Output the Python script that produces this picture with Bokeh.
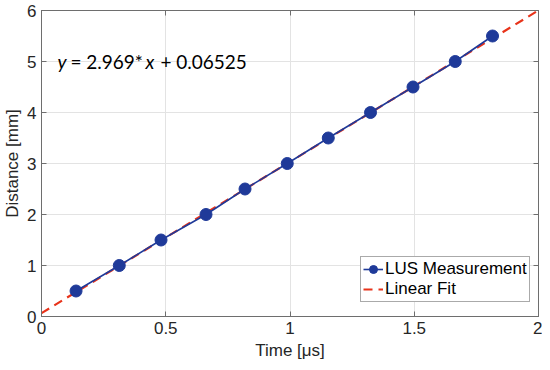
from bokeh.plotting import figure
from bokeh.models import LinearAxis, FixedTicker, Label, Range1d
from bokeh.embed import file_html
from bokeh.resources import INLINE

# Data
time_us = [0.139, 0.313, 0.481, 0.662, 0.819, 0.989, 1.154, 1.324, 1.495, 1.665, 1.815]
distance_mm = [0.5, 1.0, 1.5, 2.0, 2.5, 3.0, 3.5, 4.0, 4.5, 5.0, 5.5]
fit_slope = 2.969
fit_intercept = 0.06525
fit_x = [0.0, 2.0]
fit_y = [fit_slope * v + fit_intercept for v in fit_x]

x_ticks = [0, 0.5, 1, 1.5, 2]
x_tick_labels = ["0", "0.5", "1", "1.5", "2"]
y_ticks = [0, 1, 2, 3, 4, 5, 6]
y_tick_labels = ["0", "1", "2", "3", "4", "5", "6"]

BLUE = "#1f3a99"
RED = "#e8331a"
TXT = "#262626"
BOX = "#6e6e6e"

p = figure(frame_width=497, frame_height=306, output_backend="svg", toolbar_location=None,
           x_range=Range1d(0, 2), y_range=Range1d(0, 6),
           min_border_left=33, min_border_right=4, min_border_top=10, min_border_bottom=38)

p.line(fit_x, fit_y, line_color=RED, line_width=2.2, line_dash="9 6", legend_label="Linear Fit")
p.line(time_us, distance_mm, line_color=BLUE, line_width=1.6, legend_label="LUS Measurement")
p.scatter(time_us, distance_mm, size=12, fill_color=BLUE, line_color=BLUE, legend_label="LUS Measurement")

items = p.legend[0].items
p.legend[0].items = [items[1], items[0]]

p.xaxis.ticker = FixedTicker(ticks=x_ticks)
p.yaxis.ticker = FixedTicker(ticks=y_ticks)
p.xaxis.major_label_overrides = {t: l for t, l in zip(x_ticks, x_tick_labels)}
p.yaxis.major_label_overrides = {t: l for t, l in zip(y_ticks, y_tick_labels)}

for ax in [p.xaxis[0], p.yaxis[0]]:
    ax.major_tick_in = 5
    ax.major_tick_out = 0
    ax.minor_tick_line_color = None
    ax.axis_line_color = BOX
    ax.major_tick_line_color = BOX
    ax.major_label_text_font = "Liberation Sans"
    ax.major_label_text_font_size = "17px"
    ax.major_label_text_color = TXT
    ax.axis_label_text_font = "Liberation Sans"
    ax.axis_label_text_font_size = "17px"
    ax.axis_label_text_font_style = "normal"
    ax.axis_label_text_color = TXT

p.xaxis.axis_label = "Time [μs]"
p.yaxis.axis_label = "Distance [mm]"
p.xaxis.major_label_standoff = 5
p.yaxis.major_label_standoff = 5
p.xaxis.axis_label_standoff = 4
p.yaxis.axis_label_standoff = 2

# box axes (top/right) with ticks only
ra = LinearAxis(ticker=FixedTicker(ticks=y_ticks), major_label_overrides={t: "" for t in y_ticks},
                major_tick_in=5, major_tick_out=0, minor_tick_line_color=None,
                axis_line_color=BOX, major_tick_line_color=BOX, major_label_standoff=0)
ta = LinearAxis(ticker=FixedTicker(ticks=x_ticks), major_label_overrides={t: "" for t in x_ticks},
                major_tick_in=5, major_tick_out=0, minor_tick_line_color=None,
                axis_line_color=BOX, major_tick_line_color=BOX, major_label_standoff=0)
p.add_layout(ra, "right")
p.add_layout(ta, "above")

p.xgrid.grid_line_color = "#e3e3e3"
p.ygrid.grid_line_color = "#e3e3e3"
p.outline_line_color = BOX

leg = p.legend[0]
leg.location = (319, 14)
leg.label_text_font = "Liberation Sans"
leg.label_text_font_size = "17px"
leg.label_text_color = "#000000"
leg.border_line_color = "#555555"
leg.border_line_width = 1
leg.glyph_width = 20
leg.glyph_height = 20
leg.label_standoff = 2
leg.spacing = 0
leg.padding = 2
leg.margin = 0
leg.label_height = 20
leg.background_fill_alpha = 1

# equation annotation
eq_font = "Lato"
eq_size = "19px"
eq_x = 0.064
eq_y = 5.0
parts = [("y", 0, "italic"), ("= 2.969*", 13, "normal"), ("x", 88, "italic"), ("+ 0.06525", 103, "normal")]
for txt, off, style in parts:
    p.add_layout(Label(x=eq_x, y=eq_y, x_offset=off, text=txt, text_font=eq_font,
                       text_font_size=eq_size, text_font_style=style, text_color="#000000",
                       text_baseline="middle", text_align="left"))

open("out.html", "w").write(file_html(p, INLINE))
